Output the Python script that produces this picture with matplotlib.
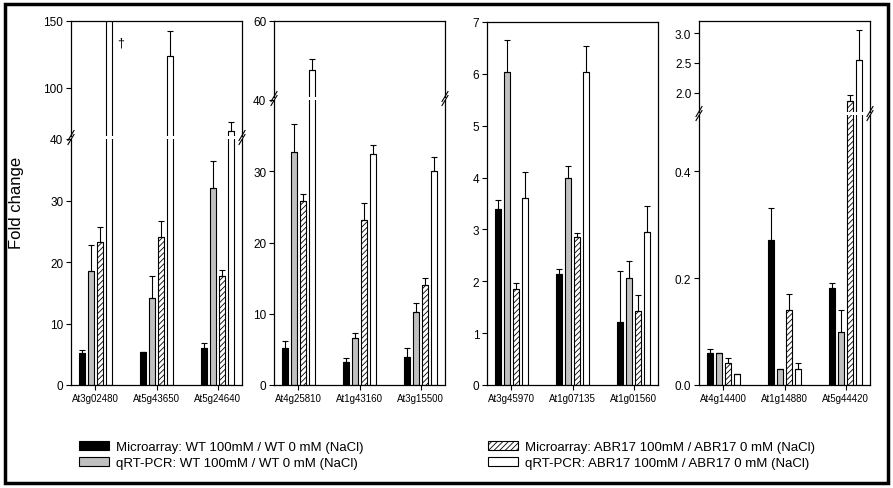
import numpy as np
import matplotlib
matplotlib.use("Agg")
import matplotlib.pyplot as plt
from matplotlib.patches import Patch, Rectangle
from matplotlib.lines import Line2D

plt.rcParams['font.family'] = ['Liberation Sans', 'DejaVu Sans']
plt.rcParams['hatch.linewidth'] = 0.6

# genes per panel
genes = [["At3g02480", "At5g43650", "At5g24640"],
         ["At4g25810", "At1g43160", "At3g15500"],
         ["At3g45970", "At1g07135", "At1g01560"],
         ["At4g14400", "At1g14880", "At5g44420"]]

# Microarray WT 100mM / WT 0 mM
wt_array = [[5.2, 5.3, 6.0], [5.2, 3.2, 3.9], [3.39, 2.15, 1.22], [0.060, 0.272, 0.181]]
wt_array_err = [[0.5, 0.0, 0.8], [1.0, 0.6, 1.3], [0.18, 0.09, 0.98], [0.007, 0.059, 0.009]]
# qRT-PCR WT
wt_pcr = [[18.5, 14.1, 32.1], [32.7, 6.6, 10.3], [6.04, 3.99, 2.06], [0.060, 0.030, 0.100]]
wt_pcr_err = [[4.2, 3.7, 4.4], [4.0, 0.7, 1.2], [0.61, 0.23, 0.34], [0.0, 0.0, 0.040]]
# Microarray ABR17
abr_array = [[23.2, 24.0, 17.7], [25.8, 23.1, 14.1], [1.86, 2.85, 1.43], [0.041, 0.140, 1.86]]
abr_array_err = [[2.5, 2.6, 1.0], [1.0, 2.5, 0.9], [0.10, 0.09, 0.31], [0.009, 0.030, 0.10]]
# qRT-PCR ABR17
abr_pcr = [[200.0, 123.7, 67.4], [47.0, 32.4, 30.0], [3.60, 6.04, 2.96], [0.020, 0.030, 2.55]]
abr_pcr_err = [[0.0, 19.0, 6.8], [3.0, 1.3, 2.0], [0.50, 0.49, 0.49], [0.0, 0.011, 0.50]]

labels = ["Microarray: WT 100mM / WT 0 mM (NaCl)",
          "qRT-PCR: WT 100mM / WT 0 mM (NaCl)",
          "Microarray: ABR17 100mM / ABR17 0 mM (NaCl)",
          "qRT-PCR: ABR17 100mM / ABR17 0 mM (NaCl)"]

styles = [dict(color='black', hatch=None),
          dict(color='#c0c0c0', hatch=None),
          dict(color='white', hatch='//////'),
          dict(color='white', hatch=None)]

# layout in pixels (top-origin): x span, lower axis top / ylim / ticks, upper axis
panels = [
    dict(x=(71, 242), lower=(140, (0, 40), [0, 10, 20, 30, 40]),
         upper=(137, (63.6, 150), [100, 150]), fmt="%g"),
    dict(x=(274, 445), lower=(101, (0, 40), [0, 10, 20, 30, 40]),
         upper=(98, (40, 60), [60]), fmt="%g"),
    dict(x=(487, 658), lower=(23, (0, 7), [0, 1, 2, 3, 4, 5, 6, 7]),
         upper=None, fmt="%g"),
    dict(x=(699, 870), lower=(116, (0, 0.505), [0.0, 0.2, 0.4]),
         upper=(113, (1.678, 3.203), [2.0, 2.5, 3.0]), fmt="%.1f"),
]
TOP, BOT = 22, 386

W, H = 893, 489
fig = plt.figure(figsize=(W / 100, H / 100), dpi=100)


def px_axes(x0, x1, y0, y1):
    return fig.add_axes([x0 / W, 1 - y1 / H, (x1 - x0) / W, (y1 - y0) / H])


def draw_bars(ax, p):
    x = np.arange(3)
    offs = [-0.225, -0.075, 0.075, 0.225]
    series = [(wt_array, wt_array_err), (wt_pcr, wt_pcr_err),
              (abr_array, abr_array_err), (abr_pcr, abr_pcr_err)]
    for k, (vals, errs) in enumerate(series):
        v = np.array(vals[p])
        e = np.array(errs[p])
        ax.bar(x + offs[k], v, 0.1, color=styles[k]['color'], hatch=styles[k]['hatch'],
               edgecolor='black', linewidth=0.8)
        ax.errorbar(x + offs[k], v, yerr=[np.zeros(3), e], fmt='none', ecolor='black',
                    elinewidth=0.8, capsize=2.5, capthick=0.8)
    ax.set_xlim(-0.4, 2.4)


def brk(xp, yp):
    for dy in (-2, 2):
        fig.add_artist(Line2D([(xp - 3) / W, (xp + 3) / W],
                              [1 - (yp + dy + 5) / H, 1 - (yp + dy - 5) / H],
                              transform=fig.transFigure, color='black', lw=0.8))


for p, spec in enumerate(panels):
    x0, x1 = spec['x']
    ltop, lylim, lticks = spec['lower']
    ax = px_axes(x0, x1, ltop, BOT)
    draw_bars(ax, p)
    ax.set_ylim(*lylim)
    ax.set_yticks(lticks)
    ax.set_yticklabels([spec['fmt'] % t for t in lticks], fontsize=8.5)
    ax.set_xticks(np.arange(3))
    ax.set_xticklabels(genes[p], fontsize=7)
    ax.tick_params(direction='out', length=3.5, width=0.8, pad=2)
    for s in ax.spines.values():
        s.set_linewidth(0.9)
    if spec['upper'] is not None:
        ax.spines['top'].set_visible(False)
        ubot, uylim, uticks = spec['upper']
        ua = px_axes(x0, x1, TOP, ubot)
        draw_bars(ua, p)
        ua.set_ylim(*uylim)
        ua.set_yticks(uticks)
        ua.set_yticklabels([spec['fmt'] % t for t in uticks], fontsize=8.5)
        ua.set_xticks([])
        ua.spines['bottom'].set_visible(False)
        ua.tick_params(direction='out', length=3.5, width=0.8, pad=2)
        for s in ua.spines.values():
            s.set_linewidth(0.9)
        yc = (ltop + ubot) / 2
        brk(x0, yc)
        brk(x1, yc)
        if p == 0:
            ua.text(0.41, 134, "\u2020", ha='center', va='center', fontsize=9)

fig.text(17 / W, 1 - 203 / H, "Fold change", rotation=90, ha='center', va='center',
         fontsize=12)

handles = [Patch(facecolor=styles[k]['color'], hatch=styles[k]['hatch'],
                 edgecolor='black', linewidth=0.8) for k in range(4)]
leg_kw = dict(frameon=False, fontsize=9.5, handlelength=2.3, handleheight=0.7,
              handletextpad=0.5, labelspacing=0.3, borderpad=0, borderaxespad=0,
              loc='upper left')
fig.legend(handles[:2], labels[:2], bbox_to_anchor=(79 / W, 1 - 442 / H), **leg_kw)
fig.legend(handles[2:], labels[2:], bbox_to_anchor=(488 / W, 1 - 442 / H), **leg_kw)

fig.add_artist(Rectangle((4.5 / W, 1 - 484 / H), 883.5 / W, 479.5 / H, fill=False,
                         edgecolor='black', lw=2.5, transform=fig.transFigure))

fig.savefig("out.png", dpi=100)
